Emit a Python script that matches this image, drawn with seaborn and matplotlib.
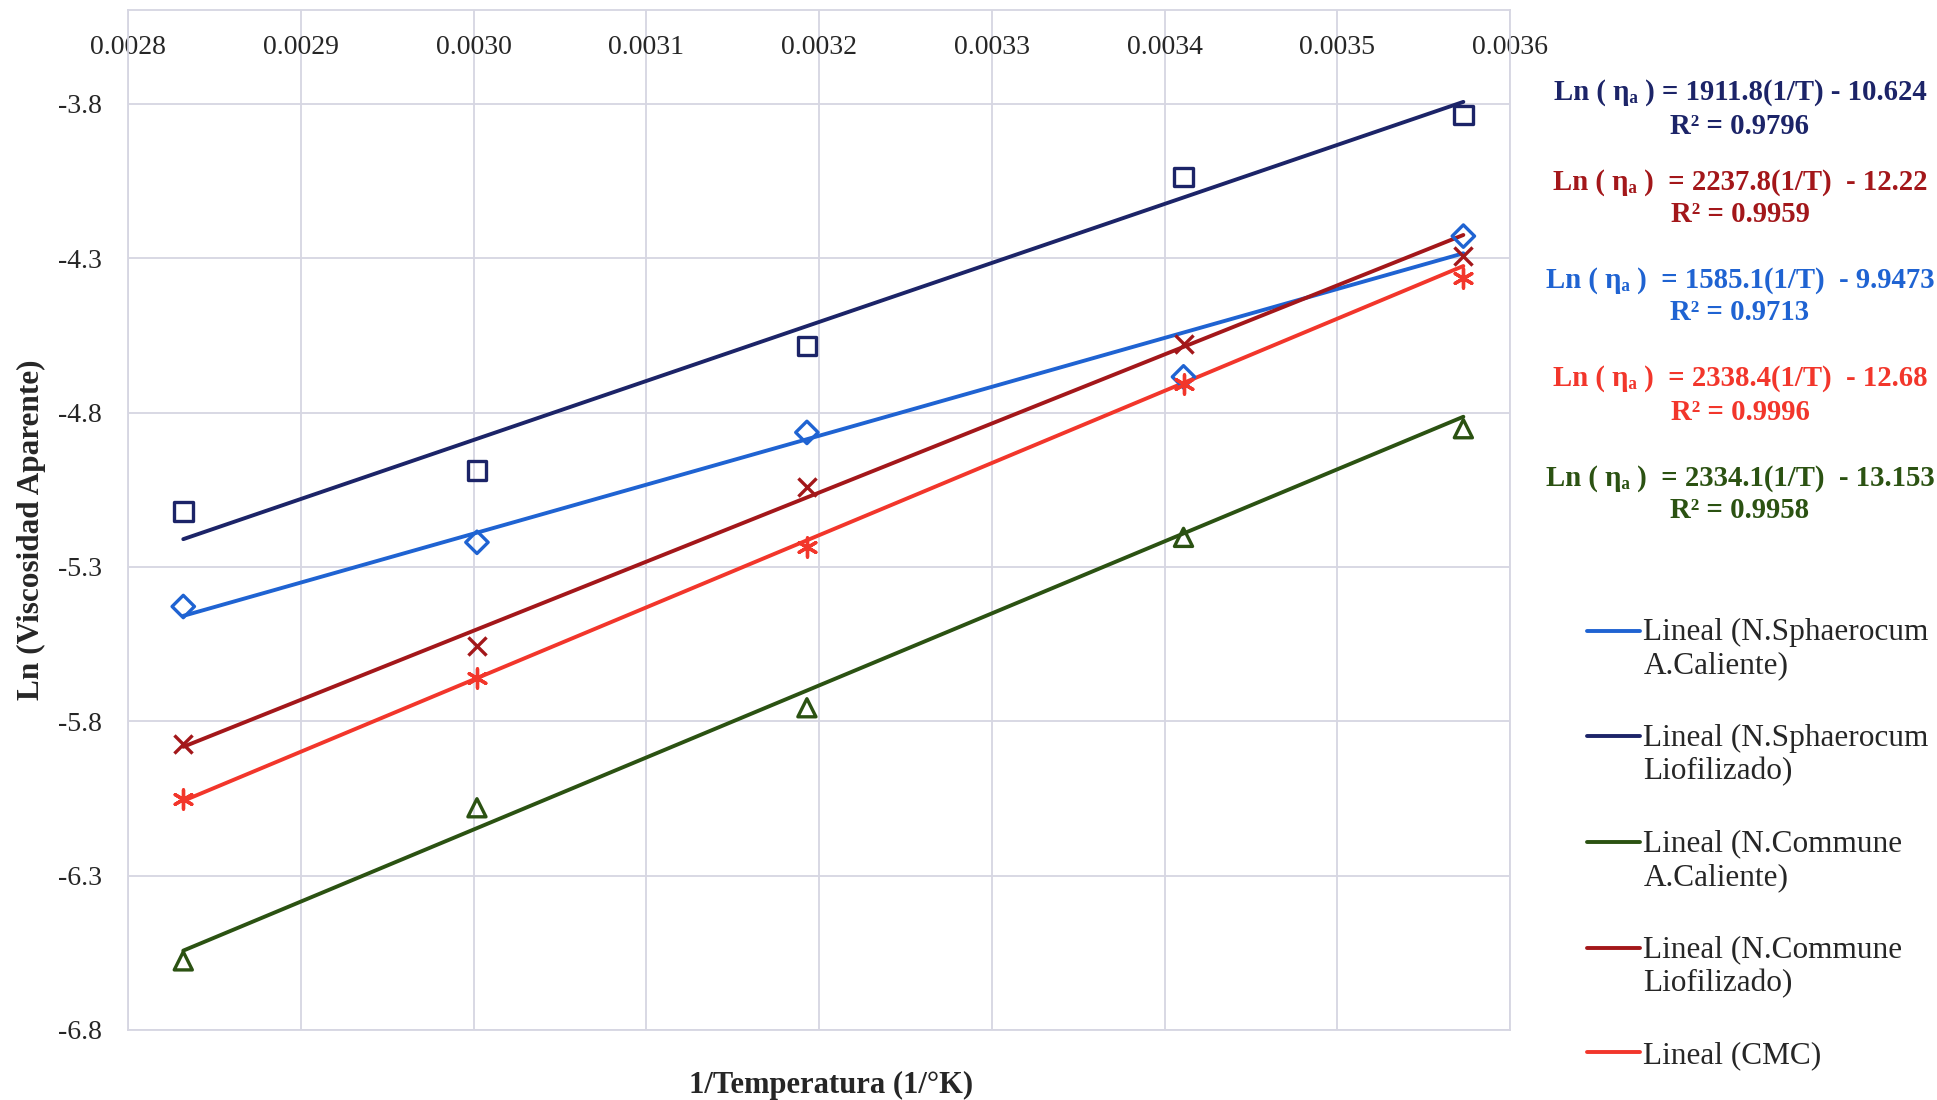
import numpy as np
import pandas as pd
import seaborn as sns
import matplotlib
matplotlib.use("Agg")
import matplotlib.pyplot as plt
from matplotlib.legend_handler import HandlerLine2D

# ---------------- data ----------------
inv_T = [0.002832, 0.003002, 0.003193, 0.003411, 0.003573]

ln_sph_caliente = [-5.428, -5.220, -4.864, -4.684, -4.228]
ln_sph_liof = [-5.120, -4.988, -4.584, -4.036, -3.836]
ln_com_caliente = [-6.576, -6.080, -5.756, -5.204, -4.852]
ln_com_liof = [-5.872, -5.556, -5.040, -4.576, -4.292]
ln_cmc = [-6.052, -5.660, -5.236, -4.708, -4.364]

legend_labels = [
    "Lineal (N.Sphaerocum\nA.Caliente)",
    "Lineal (N.Sphaerocum\nLiofilizado)",
    "Lineal (N.Commune\nA.Caliente)",
    "Lineal (N.Commune\nLiofilizado)",
    "Lineal (CMC)",
]
slopes = [1585.1, 1911.8, 2334.1, 2237.8, 2338.4]
intercepts = [-9.9473, -10.624, -13.153, -12.22, -12.68]
r2_values = ["0.9713", "0.9796", "0.9958", "0.9959", "0.9996"]
eq_order = [1, 3, 0, 4, 2]  # top-to-bottom order of equations at right

x_ticks = [0.0028, 0.0029, 0.0030, 0.0031, 0.0032, 0.0033, 0.0034, 0.0035, 0.0036]
y_ticks = [-6.8, -6.3, -5.8, -5.3, -4.8, -4.3, -3.8]

# ---------------- style ----------------
series_values = [ln_sph_caliente, ln_sph_liof, ln_com_caliente, ln_com_liof, ln_cmc]
colors = ["#1f63d2", "#1c2468", "#2b5212", "#a3171a", "#f2362b"]
markers = ["D", "s", "^", "x", (6, 2, 0)]
msizes = [130, 180, 170, 170, 190]

sns.set_style("white")
plt.rcParams["font.family"] = ["Liberation Serif", "DejaVu Serif"]

fig = plt.figure(figsize=(19.37, 11), dpi=100)
ax = fig.add_axes([128 / 1937, 70 / 1100, 1382 / 1937, 1020 / 1100])

grid_c = "#d6d6e2"
ax.set_xlim(0.0028, 0.0036)
ax.set_ylim(-6.8, -3.4955)
ax.set_xticks(x_ticks)
ax.set_yticks(y_ticks)
ax.set_xticklabels([f"{v:.4f}" for v in x_ticks])
ax.set_yticklabels([f"{v:.1f}" for v in y_ticks])
ax.grid(True, color=grid_c, linewidth=1.3)
ax.set_axisbelow(True)
for s in ax.spines.values():
    s.set_color(grid_c)
    s.set_linewidth(1.3)

ax.xaxis.tick_top()
ax.tick_params(axis="x", which="both", length=0, pad=-36, labelsize=20)
ax.tick_params(axis="y", which="both", length=0, pad=19, labelsize=20)

handles = []
for vals, c, m, s, k, b in zip(series_values, colors, markers, msizes, slopes, intercepts):
    xs = np.array([min(inv_T), max(inv_T)])
    fit = pd.DataFrame({"x": xs, "y": k * xs + b})
    sns.lineplot(data=fit, x="x", y="y", ax=ax, color=c, linewidth=2.8, zorder=3)
    handles.append(ax.lines[-1])
    df = pd.DataFrame({"x": inv_T, "y": vals})
    if m in ("x", (6, 2, 0)):
        kw = dict(color=c, linewidth=2.4)
    else:
        kw = dict(facecolors="none", edgecolor=c, linewidth=2.4)
    sns.scatterplot(data=df, x="x", y="y", ax=ax, marker=m, s=s, zorder=4, **kw)

ax.set_xlabel("1/Temperatura (1/°K)", fontsize=22, fontweight="bold")
ax.set_ylabel("Ln (Viscosidad Aparente)", fontsize=22.5, fontweight="bold")
ax.xaxis.set_label_coords(0.509, -0.040)
ax.yaxis.set_label_coords(-0.059, 0.49)

# equations at right
eq_y = [93, 182, 280, 379, 478]
for row, i in enumerate(eq_order):
    gap = " " if row == 0 else "  "
    sign = "-" if intercepts[i] < 0 else "+"
    txt = f"Ln ( ηₐ ){gap}= {slopes[i]:.1f}(1/T){gap}{sign} {abs(intercepts[i]):g}"
    fig.text(1740 / 1937, 1 - eq_y[row] / 1100, txt, ha="center", va="center",
             fontsize=20.7, fontweight="bold", color=colors[i],
             family=["Liberation Serif", "DejaVu Serif"])
    fig.text(1740 / 1937, 1 - (eq_y[row] + 33) / 1100, f"R² = {r2_values[i]}",
             ha="center", va="center", fontsize=20.7, fontweight="bold", color=colors[i])


class FirstLineHandler(HandlerLine2D):
    """Place the legend line next to the first text line of a label."""

    def __init__(self, shift, **kw):
        super().__init__(**kw)
        self.shift = shift

    def create_artists(self, legend, orig_handle, xdescent, ydescent, width,
                       height, fontsize, trans):
        arts = super().create_artists(legend, orig_handle, xdescent, ydescent,
                                      width, height, fontsize, trans)
        for a in arts:
            a.set_ydata(np.asarray(a.get_ydata(), dtype=float) + self.shift)
        return arts


leg_fs = 22.5
handler_map = {}
for h, lab in zip(handles, legend_labels):
    n_lines = lab.count("\n") + 1
    handler_map[h] = FirstLineHandler(shift=0.6 * leg_fs * (n_lines - 1))

fig.legend(handles, legend_labels, loc="upper left",
           bbox_to_anchor=(1587 / 1937, 1 - 618 / 1100), frameon=False,
           fontsize=leg_fs, handlelength=1.7, handletextpad=0.1, labelspacing=1.38,
           borderpad=0, borderaxespad=0, handler_map=handler_map)

fig.savefig("out.png", dpi=100, facecolor="white")
